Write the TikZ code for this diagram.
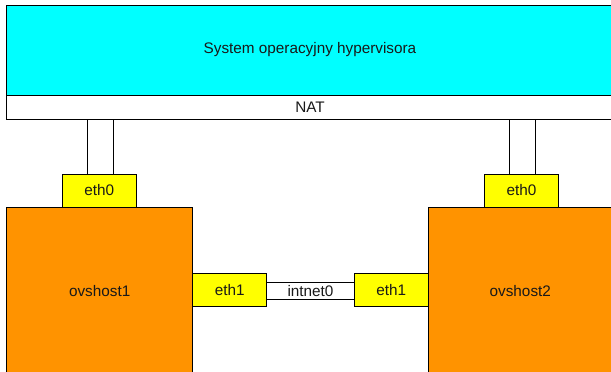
\documentclass[tikz,border=0pt]{standalone}
\usepackage{fontspec}
\setmainfont{Liberation Sans}
\definecolor{syscyan}{RGB}{0,255,255}
\definecolor{ifyellow}{RGB}{255,255,0}
\definecolor{hostorange}{RGB}{255,147,0}
\tikzset{
  box/.style={draw=black, line width=0.9pt, inner sep=0pt, font=\fontsize{15.3}{17}\selectfont, text=black!90},
  sysbox/.style={box, fill=syscyan},
  natbox/.style={box, fill=white},
  pipebox/.style={box, fill=white},
  ifbox/.style={box, fill=ifyellow},
  hostbox/.style={box, fill=hostorange},
}
\begin{document}
\begin{tikzpicture}[x=1pt,y=-1pt]
\useasboundingbox (0,0) rectangle (611,372);
\clip (0,0) rectangle (611,372);
\fill[white] (0,0) rectangle (611,372);
\node[sysbox, minimum width=608pt, minimum height=90pt] (sys) at (310,50) {System operacyjny hypervisora};
\node[natbox, minimum width=608pt, minimum height=24pt] (nat) at (310,107) {NAT};
\node[pipebox, minimum width=26pt, minimum height=55pt] (pipeL) at (100,146.5) {};
\node[pipebox, minimum width=26.5pt, minimum height=55pt] (pipeR) at (522.3,146.5) {};
\node[ifbox, minimum width=74pt, minimum height=33pt] (eth0L) at (99.3,190.5) {eth0};
\node[ifbox, minimum width=74.4pt, minimum height=33pt] (eth0R) at (521.5,190.5) {eth0};
\node[hostbox, minimum width=186pt, minimum height=168pt] (host1) at (99.7,291) {ovshost1};
\node[hostbox, minimum width=184pt, minimum height=168pt] (host2) at (520.3,291) {ovshost2};
\node[pipebox, minimum width=87.6pt, minimum height=16.7pt] (intnet) at (310.5,290.7) {intnet0};
\node[ifbox, minimum width=74pt, minimum height=33pt] (eth1L) at (229.7,290.2) {eth1};
\node[ifbox, minimum width=74pt, minimum height=33pt] (eth1R) at (391.3,290.2) {eth1};
\end{tikzpicture}
\end{document}
